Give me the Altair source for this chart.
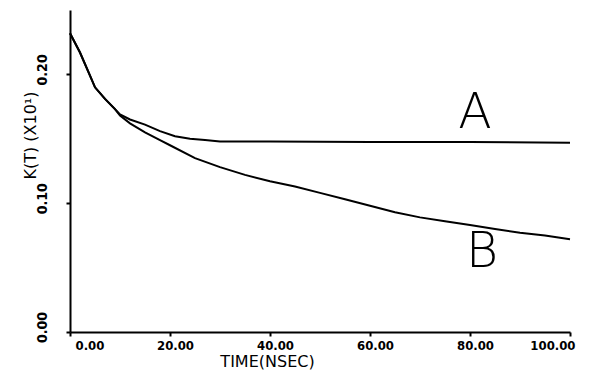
import altair as alt
import pandas as pd

# Curve A
t_a = [0, 2, 4, 5, 7, 9, 10, 12, 15, 18, 21, 24, 27, 30, 40, 60, 80, 100]
k_a = [0.232, 0.217, 0.199, 0.190, 0.181, 0.173, 0.169, 0.165, 0.161, 0.156,
       0.152, 0.150, 0.149, 0.148, 0.148, 0.1475, 0.1475, 0.147]
# Curve B
t_b = [0, 2, 4, 5, 7, 9, 10, 12, 15, 18, 20, 25, 30, 35, 40, 45, 50, 55, 60,
       65, 70, 75, 80, 85, 90, 95, 100]
k_b = [0.232, 0.217, 0.199, 0.190, 0.181, 0.173, 0.168, 0.162, 0.155, 0.149,
       0.145, 0.135, 0.128, 0.122, 0.117, 0.113, 0.108, 0.103, 0.098, 0.093,
       0.089, 0.086, 0.083, 0.080, 0.077, 0.075, 0.072]
# Curve labels
lab_text = ["A", "B"]
lab_t = [81, 82.4]
lab_k = [0.170, 0.062]

x_ticks = [0, 20, 40, 60, 80, 100]
y_ticks = [0.0, 0.1, 0.2]

df = pd.concat([
    pd.DataFrame({"t": t_a, "k": k_a, "curve": "A"}),
    pd.DataFrame({"t": t_b, "k": k_b, "curve": "B"}),
])
labels = pd.DataFrame({"t": lab_t, "k": lab_k, "text": lab_text})

LFONT = "DejaVu Sans Condensed"
TFONT = "DejaVu Sans"

x_enc = alt.X(
    "t:Q",
    scale=alt.Scale(domain=[0, 100], nice=False, zero=False),
    axis=alt.Axis(
        values=x_ticks, format=".2f", title="TIME(NSEC)", grid=False,
        tickSize=4, labelPadding=3, labelOffset=5, labelBaseline="top",
        labelFont=LFONT, labelFontWeight="bold", labelFontSize=13,
        titleFont=TFONT, titleFontWeight="normal", titleFontSize=16,
        titleX=197, titleY=34, titleBaseline="alphabetic", titleAlign="center",
        domainColor="black", domainWidth=2, tickColor="black", tickWidth=2,
        labelColor="black", titleColor="black",
    ),
)
y_enc = alt.Y(
    "k:Q",
    scale=alt.Scale(domain=[0, 0.25], nice=False),
    axis=alt.Axis(
        values=y_ticks, format=".2f", title="K(T)  (X10¹)", grid=False,
        tickSize=4, labelPadding=17, labelAngle=270, labelAlign="center",
        labelBaseline="bottom", labelOffset=-5,
        labelFont=LFONT, labelFontWeight="bold", labelFontSize=14,
        titleFont=TFONT, titleFontWeight="normal", titleFontSize=16,
        titleAngle=270, titleX=-40, titleY=125, titleAlign="center",
        titleBaseline="middle",
        domainColor="black", domainWidth=2, tickColor="black", tickWidth=2,
        labelColor="black", titleColor="black",
    ),
)

lines = alt.Chart(df).mark_line(color="black", strokeWidth=2).encode(
    x=x_enc, y=y_enc, detail="curve:N"
)
text = alt.Chart(labels).mark_text(
    font=TFONT, fontSize=49, color="black", align="center", baseline="middle",
    fontWeight=200,
).encode(x="t:Q", y="k:Q", text="text:N")

chart = (lines + text).properties(
    width=500, height=322,
    autosize=alt.AutoSizeParams(type="none"),
    padding={"left": 70, "top": 10, "right": 29, "bottom": 39},
    background="white",
).configure_view(stroke=None)

chart.save("out.html", embed_options={"renderer": "svg", "actions": False})
